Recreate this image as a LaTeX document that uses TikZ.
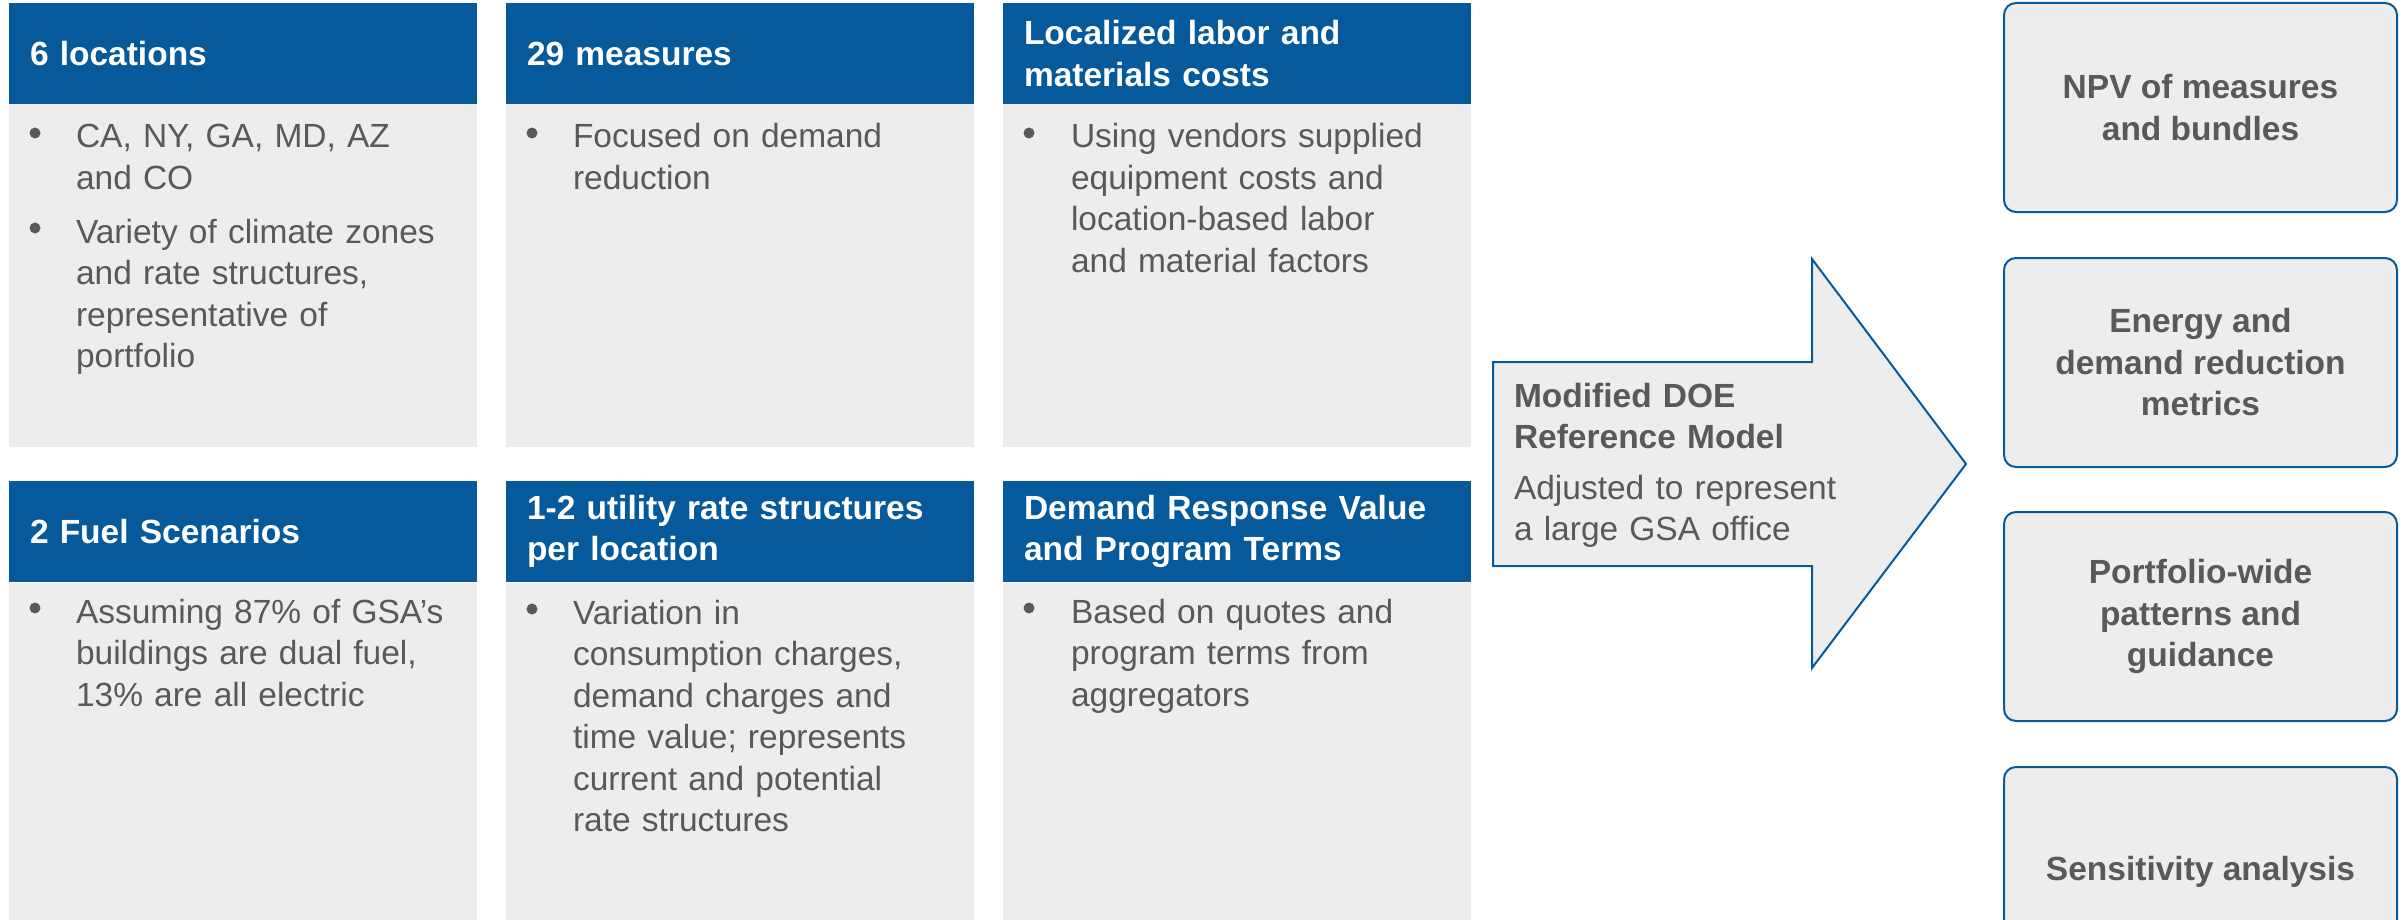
\documentclass[tikz,border=0pt]{standalone}
\usepackage{fontspec}
\setmainfont{Liberation Sans}
\definecolor{hdrblue}{HTML}{065A9C}
\definecolor{panelgray}{HTML}{EDEDED}
\definecolor{txtgray}{HTML}{595959}
\newcommand{\txtfont}{\fontsize{16.75pt}{20.75pt}\selectfont}
\begin{document}
\begin{tikzpicture}[x=0.5pt,y=-0.5pt,
  every node/.style={inner sep=0pt, outer sep=0pt},
  hdr/.style={anchor=north west, fill=hdrblue, text=white,
    font=\bfseries\txtfont, minimum width=234pt, minimum height=50.5pt,
    text width=213pt, inner xsep=10.5pt, align=left},
  panelbody/.style={anchor=north west, fill=panelgray, minimum width=234pt},
  item/.style={anchor=base west, text=txtgray, font=\txtfont,
    align=left, text width=200pt},
  dot/.style={circle, fill=txtgray, minimum size=5.5pt},
  result/.style={anchor=north west, draw=hdrblue, line width=1pt,
    rounded corners=6pt, fill=panelgray, minimum width=196.5pt,
    minimum height=104.5pt, align=center, text=txtgray,
    font=\bfseries\txtfont},
  arrowshape/.style={draw=hdrblue, line width=1pt, fill=panelgray, line join=miter}
]
\clip (0,0) rectangle (2405,920);
\fill[white] (0,0) rectangle (2405,920);

% ---- top row of input panels ----
\node[panelbody, minimum height=171.5pt] (b1) at (9,104) {};
\node[panelbody, minimum height=171.5pt] (b2) at (506,104) {};
\node[panelbody, minimum height=171.5pt] (b3) at (1003,104) {};
\node[hdr] (h1) at (9,3) {6 locations};
\node[hdr] (h2) at (506,3) {29 measures};
\node[hdr] (h3) at (1003,3) {Localized labor and\\materials costs};

\node[dot] (d11) at (35,133) {};
\node[item] (t11) at (76,148) {CA, NY, GA, MD, AZ\\and CO};
\node[dot] (d12) at (35,228) {};
\node[item] (t12) at (76,243) {Variety of climate zones\\and rate structures,\\representative of\\portfolio};
\node[dot] (d21) at (532,133) {};
\node[item] (t21) at (573,148) {Focused on demand\\reduction};
\node[dot] (d31) at (1029,133) {};
\node[item] (t31) at (1071,148) {Using vendors supplied\\equipment costs and\\location-based labor\\and material factors};

% ---- bottom row of input panels ----
\node[panelbody, minimum height=170pt] (b4) at (9,583) {};
\node[panelbody, minimum height=170pt] (b5) at (506,583) {};
\node[panelbody, minimum height=170pt] (b6) at (1003,583) {};
\node[hdr] (h4) at (9,481) {2 Fuel Scenarios};
\node[hdr] (h5) at (506,481) {1-2 utility rate structures\\per location};
\node[hdr] (h6) at (1003,481) {Demand Response Value\\and Program Terms};

\node[dot] (d41) at (35,608) {};
\node[item] (t41) at (76,623) {Assuming 87\% of GSA’s\\buildings are dual fuel,\\13\% are all electric};
\node[dot] (d51) at (532,609) {};
\node[item] (t51) at (573,624) {Variation in\\consumption charges,\\demand charges and\\time value; represents\\current and potential\\rate structures};
\node[dot] (d61) at (1029,608) {};
\node[item] (t61) at (1071,623) {Based on quotes and\\program terms from\\aggregators};

% ---- model arrow ----
\draw[arrowshape] (1493,362) -- (1812,362) -- (1812,259) -- (1966,464)
  -- (1812,668) -- (1812,566) -- (1493,566) -- cycle;
\node[item, font=\bfseries\txtfont] (mtitle) at (1514,407) {Modified DOE\\Reference Model};
\node[item] (mtext) at (1514,499) {Adjusted to represent\\a large GSA office};

% ---- outputs ----
\node[result] (o1) at (2004,3) {NPV of measures\\and bundles};
\node[result] (o2) at (2004,258) {Energy and\\demand reduction\\metrics};
\node[result] (o3) at (2004,512) {Portfolio-wide\\patterns and\\guidance};
\node[result] (o4) at (2004,767) {Sensitivity analysis};
\end{tikzpicture}
\end{document}
